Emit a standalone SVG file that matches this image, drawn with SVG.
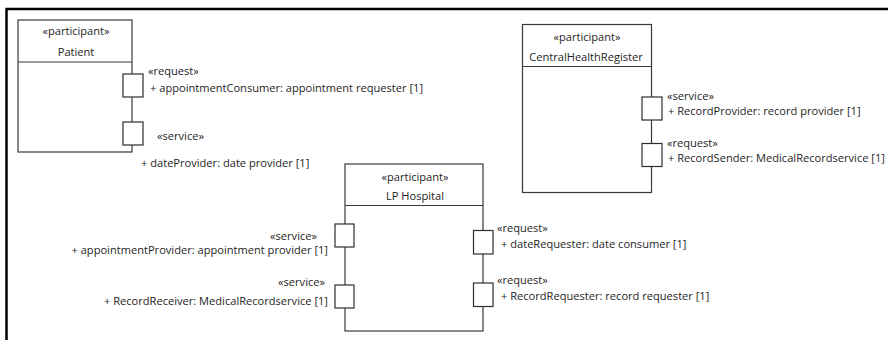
<svg xmlns="http://www.w3.org/2000/svg" width="888" height="340" viewBox="0 0 888 340">
  <style>
    .frame { fill: none; stroke: #000; stroke-width: 2.5; }
    .box { fill: #fff; stroke: #3a3a3a; stroke-width: 1.2; }
    .div { stroke: #3a3a3a; stroke-width: 1.2; }
    .port { fill: #fff; stroke: #2e2e2e; stroke-width: 1.2; }
    text { font-family: "Open Sans", "Liberation Sans", sans-serif; font-size: 11.1px; fill: #1e1e1e; }
    .c { text-anchor: middle; }
    .e { text-anchor: end; }
  </style>

  <rect width="888" height="340" fill="#fff"/>
  <!-- diagram frame (top and left edges) -->
  <path class="frame" d="M6.5 340 V9 H888"/>

  <!-- Patient participant -->
  <g id="patient">
    <rect class="box" x="18" y="20" width="114" height="132"/>
    <line class="div" x1="18" y1="62" x2="132" y2="62"/>
    <text class="c" x="76" y="35">«participant»</text>
    <text class="c" x="76" y="56">Patient</text>
    <g id="patient-appointmentConsumer">
      <rect class="port" x="123" y="74" width="20" height="23"/>
      <text x="148" y="75">«request»</text>
      <text x="150" y="92">+ appointmentConsumer: appointment requester [1]</text>
    </g>
    <g id="patient-dateProvider">
      <rect class="port" x="123" y="122" width="20" height="23"/>
      <text x="157" y="140">«service»</text>
      <text x="141" y="167">+ dateProvider: date provider [1]</text>
    </g>
  </g>

  <!-- CentralHealthRegister participant -->
  <g id="centralHealthRegister">
    <rect class="box" x="522.5" y="24.5" width="129" height="168"/>
    <line class="div" x1="522.5" y1="66.5" x2="651.5" y2="66.5"/>
    <text class="c" x="587" y="41">«participant»</text>
    <text class="c" x="586" y="61">CentralHealthRegister</text>
    <g id="chr-recordProvider">
      <rect class="port" x="642" y="97" width="20" height="23"/>
      <text x="667" y="100">«service»</text>
      <text x="668" y="115">+ RecordProvider: record provider [1]</text>
    </g>
    <g id="chr-recordSender">
      <rect class="port" x="642" y="143.5" width="20" height="23"/>
      <text x="667" y="147">«request»</text>
      <text x="668" y="162">+ RecordSender: MedicalRecordservice [1]</text>
    </g>
  </g>

  <!-- LP Hospital participant -->
  <g id="lpHospital">
    <rect class="box" x="345" y="164" width="138" height="167"/>
    <line class="div" x1="345" y1="205.5" x2="483" y2="205.5"/>
    <text class="c" x="415" y="181">«participant»</text>
    <text class="c" x="415" y="200">LP Hospital</text>
    <g id="lp-appointmentProvider">
      <rect class="port" x="335" y="224" width="19" height="23"/>
      <text class="e" x="317" y="240">«service»</text>
      <text class="e" x="328" y="254">+ appointmentProvider: appointment provider [1]</text>
    </g>
    <g id="lp-recordReceiver">
      <rect class="port" x="335" y="285" width="19" height="23"/>
      <text class="e" x="325" y="286">«service»</text>
      <text class="e" x="328" y="305">+ RecordReceiver: MedicalRecordservice [1]</text>
    </g>
    <g id="lp-dateRequester">
      <rect class="port" x="473.5" y="230.5" width="19.5" height="23.5"/>
      <text x="497" y="232">«request»</text>
      <text x="501" y="248">+ dateRequester: date consumer [1]</text>
    </g>
    <g id="lp-recordRequester">
      <rect class="port" x="473.5" y="283" width="19.5" height="23.5"/>
      <text x="497" y="284">«request»</text>
      <text x="501" y="300">+ RecordRequester: record requester [1]</text>
    </g>
  </g>
</svg>
